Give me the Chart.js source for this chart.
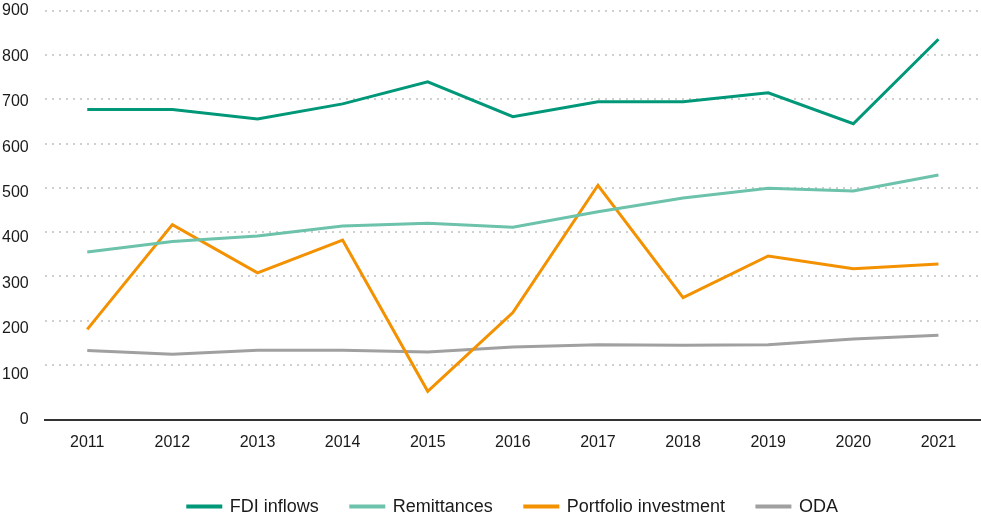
<!DOCTYPE html>
<html>
<head>
<meta charset="utf-8">
<script src="https://cdn.jsdelivr.net/npm/chart.js@4/dist/chart.umd.min.js"></script>
<style>
  html, body { margin: 0; padding: 0; background: #fff; }
  #wrap { width: 981px; height: 515px; }
</style>
</head>
<body>
<div id="wrap"><canvas id="chart"></canvas></div>
<script>
const anni = ['2011', '2012', '2013', '2014', '2015', '2016', '2017', '2018', '2019', '2020', '2021']

const fdi = [677, 677, 656, 690, 740, 661, 695, 695, 715, 645, 836]
const rimesse = [355, 379, 391, 414, 420, 411, 446, 477, 499, 493, 529]
const portafoglio = [180, 417, 308, 382, 40, 218, 506, 252, 346, 317, 328]
const oda = [132, 124, 133, 133, 129, 140, 145, 144, 145, 158, 167]

const griglia = [100, 200, 300, 400, 500, 600, 700, 800, 900]

const FONT = '"Liberation Sans", Arial, sans-serif'

const serie = [
    { label: 'FDI inflows', data: fdi, color: '#009878' },
    { label: 'Remittances', data: rimesse, color: '#6cc2aa' },
    { label: 'Portfolio investment', data: portafoglio, color: '#f39100' },
    { label: 'ODA', data: oda, color: '#a0a0a0' }
]

new Chart(document.getElementById('chart'), {
    type: 'line',
    data: {
        labels: anni,
        datasets: serie.map(s => ({
            label: s.label,
            data: s.data,
            borderColor: s.color,
            backgroundColor: s.color,
            borderWidth: 3,
            pointRadius: 0,
            tension: 0,
            yAxisID: 'y'
        }))
    },
    options: {
        responsive: true,
        maintainAspectRatio: false,
        animation: false,
        layout: { padding: { left: 2, right: 0, top: 11, bottom: -10.6 } },
        plugins: {
            legend: {
                position: 'bottom',
                fullSize: false,
                labels: {
                    color: '#1a1a1a',
                    font: { family: FONT, size: 18 },
                    boxWidth: 33,
                    boxHeight: 1,
                    padding: 32
                }
            },
            tooltip: { enabled: false }
        },
        scales: {
            x: {
                offset: true,
                grid: { display: false, drawTicks: false },
                border: { display: true, color: '#333', width: 2 },
                ticks: {
                    color: '#1a1a1a',
                    padding: 6,
                    font: { family: FONT, size: 16, lineHeight: 2.125 }
                }
            },
            // griglia punteggiata, scala dei dati
            y: {
                position: 'left',
                min: -24,
                max: 900,
                afterBuildTicks: axis => {
                    axis.ticks = griglia.map(v => ({ value: v }))
                },
                grid: {
                    color: '#cfcfcf',
                    lineWidth: 2,
                    drawTicks: true,
                    tickLength: 16,
                    tickColor: 'rgba(0,0,0,0)'
                },
                border: { display: false, dash: [2, 5] },
                ticks: { display: false }
            },
            // etichette dell'asse
            yl: {
                position: 'left',
                min: 0,
                max: 900,
                grid: { display: false, drawTicks: false },
                border: { display: false },
                ticks: {
                    stepSize: 100,
                    color: '#1a1a1a',
                    padding: 0,
                    font: { family: FONT, size: 16 }
                }
            }
        }
    }
})
</script>
</body>
</html>
